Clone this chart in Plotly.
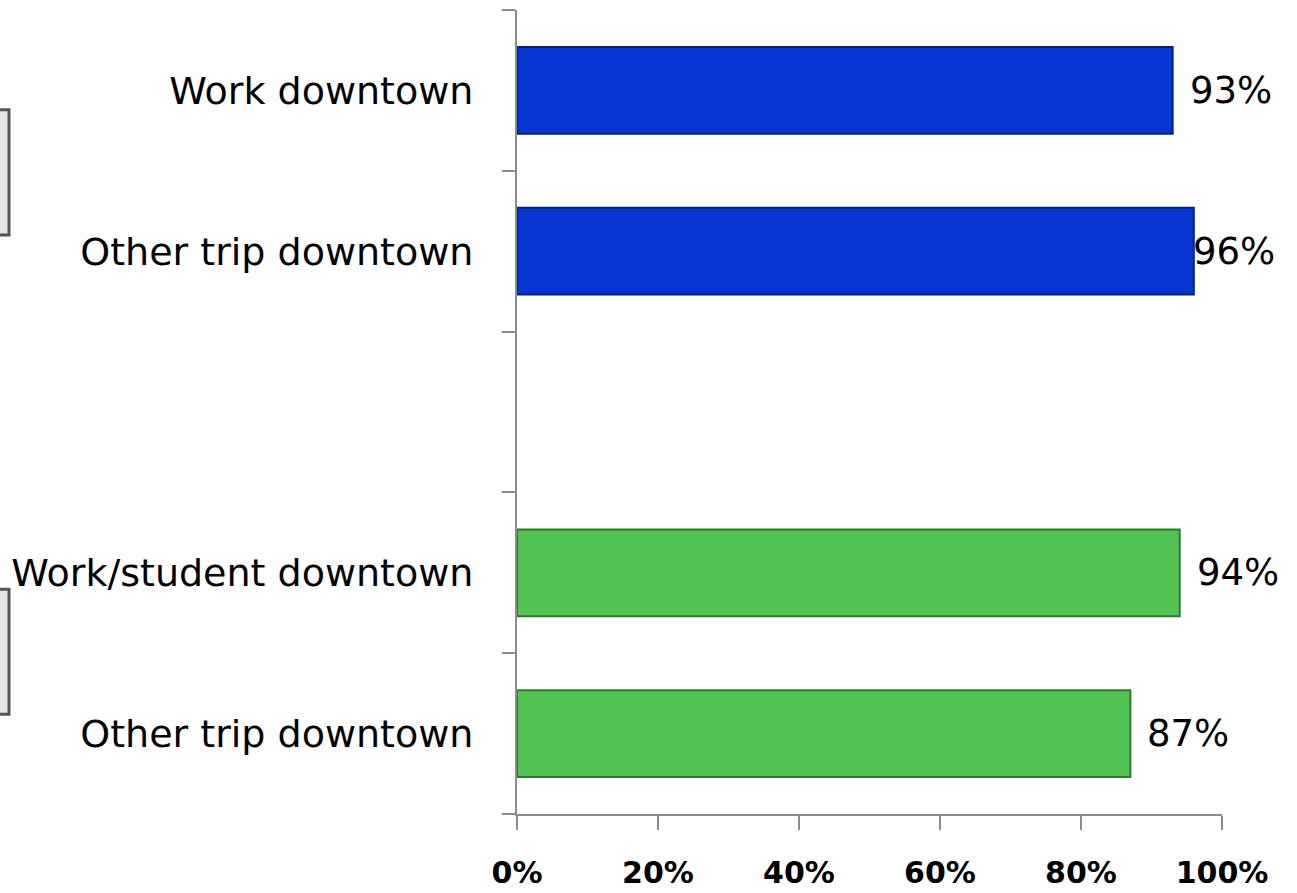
import plotly.graph_objects as go

categories = ["Work downtown", "Other trip downtown", "", "Work/student downtown", "Other trip downtown"]
values = [93, 96, None, 94, 87]
labels = ["93%", "96%", "", "94%", "87%"]
colors = ["#0836D2", "#0836D2", "#ffffff", "#52C352", "#52C352"]
edge_colors = ["#06207E", "#06207E", "#ffffff", "#2E7A2E", "#2E7A2E"]
x_ticks = [0, 20, 40, 60, 80, 100]
x_ticktext = ["0%", "20%", "40%", "60%", "80%", "100%"]

positions = list(range(len(categories)))
label_pos = [p for p, c in zip(positions, categories) if c]
label_txt = [c for c in categories if c]
boundaries = [p - 0.5 for p in positions] + [positions[-1] + 0.5]

fig = go.Figure()
fig.add_trace(go.Bar(
    y=positions, x=values, orientation="h",
    marker=dict(color=colors, line=dict(color=edge_colors, width=2)),
    hoverinfo="skip", showlegend=False,
))

for p, v, lab in zip(positions, values, labels):
    if v is None:
        continue
    fig.add_annotation(x=v, y=p, text=lab, showarrow=False, xanchor="left",
                       xshift=15 if lab != "96%" else -3,
                       font=dict(family="DejaVu Sans", size=37, color="black"))

# clipped group boxes at left edge
for y0, y1 in [(0.720, 0.876), (0.124, 0.2795)]:
    fig.add_shape(type="rect", xref="paper", yref="paper", xsizemode="pixel", xanchor=0,
                  x0=-545, x1=-508, y0=y0, y1=y1,
                  line=dict(color="#555555", width=3), fillcolor="#e6e6e6")

fig.update_layout(
    width=1297, height=893,
    margin=dict(l=517, r=75, t=10, b=79),
    paper_bgcolor="white", plot_bgcolor="white",
    bargap=0.46,
    xaxis=dict(range=[0, 100], tickvals=x_ticks, ticktext=x_ticktext, automargin=False,
               showgrid=False, zeroline=False, showline=True, linecolor="#8c8c8c", linewidth=2,
               ticks="outside", ticklen=14, tickwidth=2, tickcolor="#8c8c8c",
               ticklabelstandoff=17,
               tickfont=dict(family="DejaVu Sans", size=30, color="black", weight="bold")),
    yaxis=dict(range=[positions[-1] + 0.5, positions[0] - 0.5], automargin=False,
               tickvals=label_pos, ticktext=label_txt, ticks="",
               minor=dict(tickvals=boundaries, ticks="outside", ticklen=13, tickwidth=2,
                          tickcolor="#8c8c8c", showgrid=False),
               showgrid=False, zeroline=False, showline=True, linecolor="#8c8c8c", linewidth=2,
               ticklabelstandoff=34,
               tickfont=dict(family="DejaVu Sans", size=38, color="black")),
)

fig.write_html("out.html", config={"displayModeBar": False},
               post_script="document.body.style.margin='0';document.body.style.overflow='hidden';")
